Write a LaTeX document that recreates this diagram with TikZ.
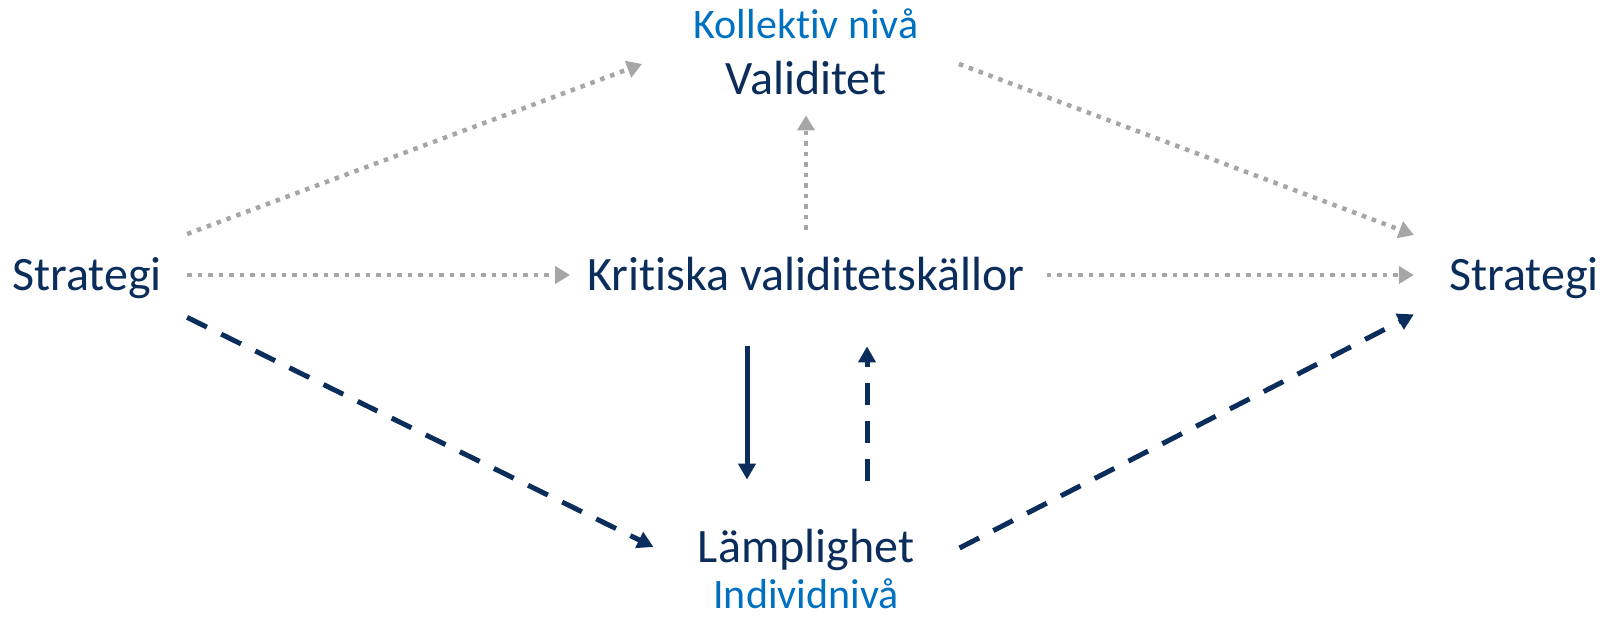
\documentclass[tikz,border=0pt]{standalone}
\usepackage{fontspec}
\setmainfont{Carlito}[Ligatures=NoCommon]
\usetikzlibrary{arrows.meta}
\definecolor{mycnavy}{HTML}{0B2D5C}
\definecolor{mycblue}{HTML}{0070C0}
\definecolor{mycgrey}{HTML}{A6A6A6}

\begin{document}
\begin{tikzpicture}[
 x=0.5pt,y=-0.5pt,
 big/.style={inner sep=0pt,anchor=base,text=mycnavy,font=\fontsize{24}{28}\selectfont,text height=17pt,text depth=5pt},
 lvl/.style={inner sep=0pt,anchor=base,text=mycblue,font=\fontsize{21}{25}\selectfont},
 g/.style={-{Triangle[length=7.5pt,width=8.5pt]},mycgrey,line width=2.25pt,dash pattern=on 2.25pt off 3pt},
 n/.style={-{Triangle[length=8pt,width=8.5pt]},mycnavy,line width=2.5pt},
 nd/.style={n,dash pattern=on 11pt off 8pt}
]
\useasboundingbox (0,0) rectangle (1612,619);
\node[lvl] (koll) at (806,39) {Kollektiv nivå};
\node[big] (val) at (806,95) {Validitet};
\node[big] (sL) at (87,291) {Strategi};
\node[big] (krit) at (806,291) {Kritiska validitetskällor};
\node[big] (sR) at (1524,291) {Strategi};
\node[big] (lamp) at (806,563) {Lämplighet};
\node[lvl] (indiv) at (806,609) {Individnivå};
% kollektiv niva
\draw[g] ([shift={(25,-45)}]sL.east) -- ([shift={(-83,-19)}]val.west);
\draw[g] ([shift={(72,-19)}]val.east) -- ([shift={(-35,-44)}]sR.west);
\draw[g] ([shift={(25,-4)}]sL.east) -- ([shift={(-17,-4)}]krit.west);
\draw[g] ([shift={(22,-4)}]krit.east) -- ([shift={(-35,-4)}]sR.west);
\draw[g] ([shift={(0,-27)}]krit.north) -- ([shift={(0,10)}]val.south);
% individniva
\draw[n] ([shift={(-59,45)}]krit.south) -- ([shift={(-59,-49)}]lamp.north);
\draw[nd] ([shift={(61,-48)}]lamp.north) -- ([shift={(61,45)}]krit.south);
\draw[nd] ([shift={(25,16)}]sL.south east) -- ([shift={(-44,-4)}]lamp.west);
\draw[nd] ([shift={(45,-3)}]lamp.east) -- ([shift={(-35,13)}]sR.south west);
\end{tikzpicture}
\end{document}
